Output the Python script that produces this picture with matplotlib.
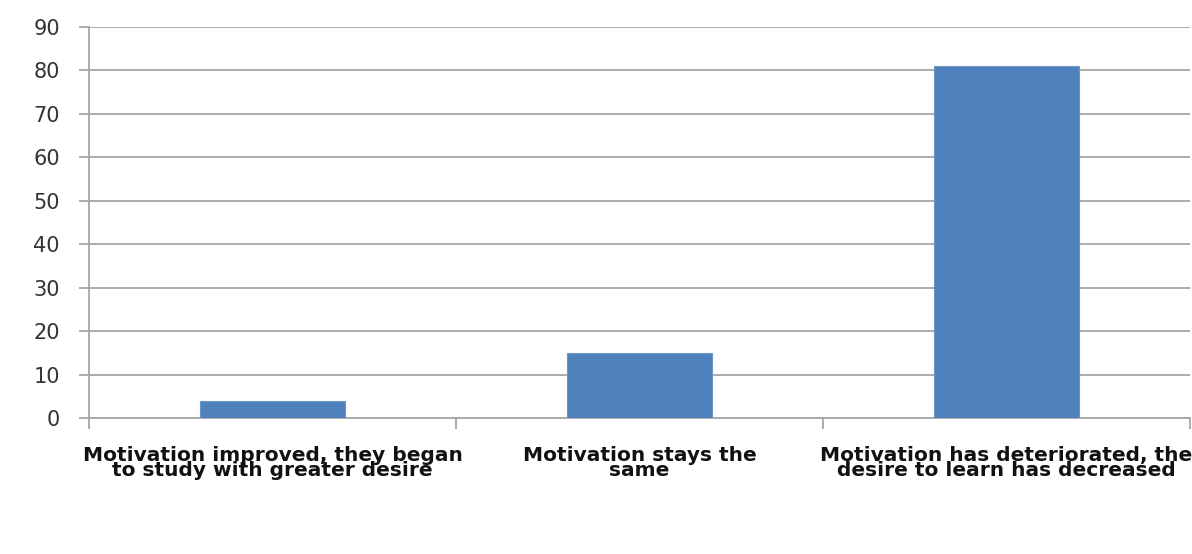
import matplotlib
matplotlib.use("Agg")
import matplotlib.pyplot as plt
import numpy as np

categories = [
    "Motivation improved, they began\nto study with greater desire",
    "Motivation stays the\nsame",
    "Motivation has deteriorated, the\ndesire to learn has decreased",
]
values = [4, 15, 81]
yticks = [0, 10, 20, 30, 40, 50, 60, 70, 80, 90]

fig = plt.figure(figsize=(11.92, 5.54), dpi=100)
ax = fig.add_axes([0.0747, 0.2455, 0.9235, 0.7058])

x = np.arange(len(categories))
ax.bar(x, values, width=0.395, color="#4F81BD", edgecolor="#6E95C8", linewidth=0.8, zorder=3)

ax.set_xlim(-0.5, len(categories) - 0.5)
ax.set_ylim(0, 90)
ax.set_yticks(yticks)
ax.set_yticklabels([str(v) for v in yticks], fontsize=15, color="#333333", fontfamily="DejaVu Sans")
ax.yaxis.grid(True, color="#A6A6A6", linewidth=1.3, zorder=0)
ax.tick_params(axis="y", length=7, width=1.3, color="#A6A6A6", pad=14)

ax.set_xticks(x)
ax.set_xticklabels(categories, fontsize=14.5, fontweight="bold", color="#111111",
                   linespacing=0.75, fontfamily="DejaVu Sans")
ax.tick_params(axis="x", which="major", length=0, pad=20)
ax.set_xticks(np.arange(-0.5, len(categories)), minor=True)
ax.tick_params(axis="x", which="minor", length=8, width=1.3, color="#A6A6A6")

for s in ["top", "right"]:
    ax.spines[s].set_visible(False)
for s in ["left", "bottom"]:
    ax.spines[s].set_color("#A6A6A6")
    ax.spines[s].set_linewidth(1.3)

fig.savefig("out.png", dpi=100)
